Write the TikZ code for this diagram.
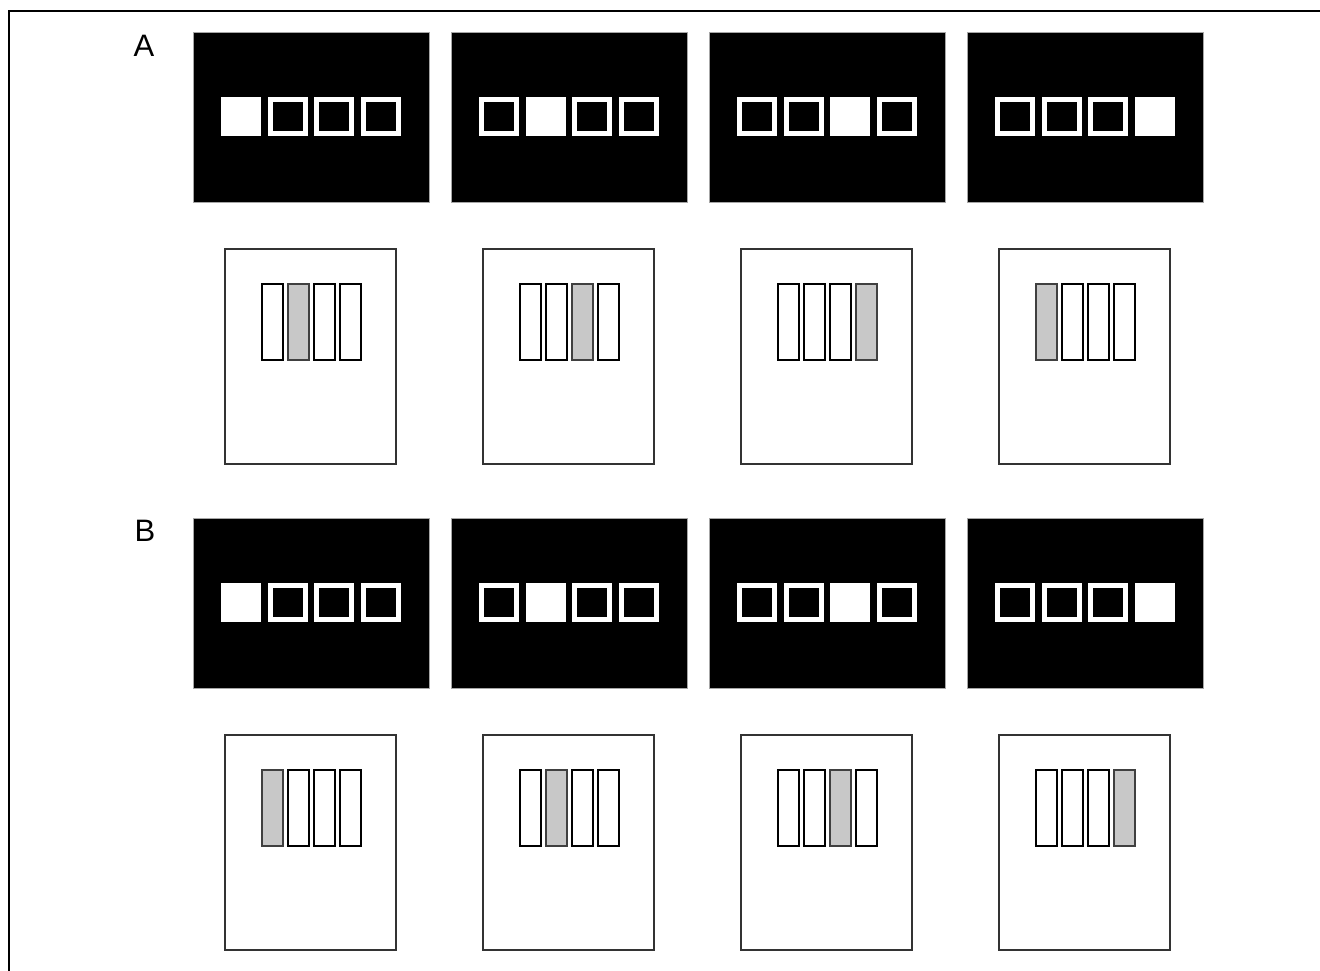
\documentclass[tikz,border=0pt]{standalone}
\usepackage{fontspec}
\setmainfont{Liberation Sans}
\definecolor{barfill}{HTML}{C8C8C8}
\definecolor{boxline}{HTML}{333333}
\begin{document}
\begin{tikzpicture}[x=1pt,y=-1pt,
  panel/.style={fill=black,draw=gray!70,line width=0.6pt},
  litsq/.style={fill=white},
  emptysq/.style={draw=white,line width=5pt},
  card/.style={draw=boxline,line width=1.5pt,fill=white},
  bar/.style={draw=black,line width=2.2pt,fill=white},
  graybar/.style={draw=black!75,line width=2.2pt,fill=barfill},
  lab/.style={font=\fontsize{31}{36}\selectfont,inner sep=0pt}]
\useasboundingbox (0,0) rectangle (1320,971);
\fill[white] (0,0) rectangle (1320,971);
\draw[line width=2pt] (9,971) -- (9,11) -- (1320,11);
\node[lab] (labA) at (144,46) {A};
\node[lab] (labB) at (145,530.5) {B};
\foreach \r in {0,1}{
  \foreach \i in {0,...,3}{
    \pgfmathsetmacro{\dy}{486*\r}
    \pgfmathsetmacro{\px}{193+258*\i}
    \pgfmathsetmacro{\bx}{225+258*\i}
    \pgfmathtruncatemacro{\g}{\r==0 ? mod(\i+1,4) : \i}
    \draw[panel] (\px,32+\dy) rectangle ++(236,170);
    \foreach \j in {0,...,3}{
      \pgfmathsetmacro{\sx}{\px+28+46.7*\j}
      \ifnum\j=\i
        \fill[litsq] (\sx,97+\dy) rectangle ++(40,39);
      \else
        \draw[emptysq] (\sx+2.5,99.5+\dy) rectangle ++(35,34);
      \fi
    }
    \draw[card] (\bx,249+\dy) rectangle ++(171,215);
    \foreach \j in {0,...,3}{
      \pgfmathsetmacro{\cx}{\bx+37+26*\j}
      \ifnum\j=\g
        \draw[graybar] (\cx,284+\dy) rectangle ++(21,76);
      \else
        \draw[bar] (\cx,284+\dy) rectangle ++(21,76);
      \fi
    }
  }
}
\end{tikzpicture}
\end{document}
